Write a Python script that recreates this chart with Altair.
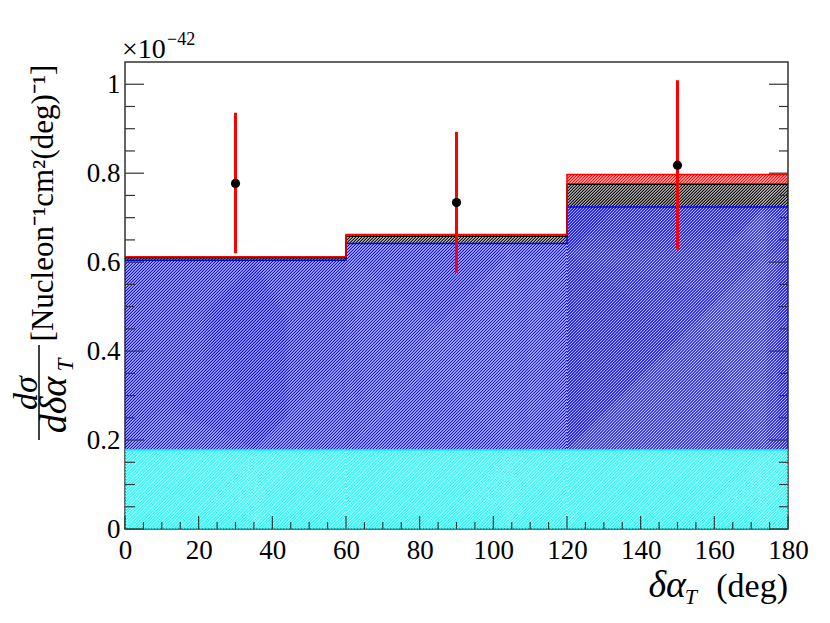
import altair as alt
import pandas as pd

# ---------------- data ----------------
bin_lo = [0, 60, 120]
bin_hi = [60, 120, 180]
# stacked components (contributions per bin), bottom to top
cyan_vals = [0.1775, 0.1775, 0.1775]
blue_vals = [0.4265, 0.4645, 0.5465]
black_vals = [0.006, 0.016, 0.051]
red_vals = [0.002, 0.004, 0.022]

pt_x = [30, 90, 150]
pt_y = [0.777, 0.734, 0.818]
err_lo = [0.620, 0.576, 0.628]
err_hi = [0.936, 0.893, 1.009]

x_major = [0, 20, 40, 60, 80, 100, 120, 140, 160, 180]
x_minor = [v for v in range(0, 181, 5) if v % 20 != 0]
y_major = [0, 0.2, 0.4, 0.6, 0.8, 1.0]
y_minor = [round(i * 0.05, 2) for i in range(0, 21) if i % 4 != 0]

# ---------------- layout ----------------
W, H = 663, 467
XMAX, YMAX = 180, 1.05
FONT = "Liberation Serif, Times New Roman, serif"
FRAME = "#333333"
PERIOD = 3.0  # hatch spacing in px (ROOT style 3004-like)

xs = alt.Scale(domain=[0, XMAX], nice=False, zero=False)
ys = alt.Scale(domain=[0, YMAX], nice=False, zero=False)

XAX = alt.Axis(values=x_major, tickSize=0, domain=False, grid=False,
               labelFont=FONT, labelFontSize=27, labelPadding=8,
               labelColor="black", labelFlush=False, labelOverlap=False, title=None)
YAX = alt.Axis(values=y_major, tickSize=0, domain=False, grid=False,
               labelFont=FONT, labelFontSize=27, labelPadding=5, format="~g",
               labelColor="black", labelOverlap=False, title=None)

components = [
    ("cyan", cyan_vals, "#00ffff"),
    ("blue", blue_vals, "#0000ff"),
    ("black", black_vals, "#000000"),
    ("red", red_vals, "#ff0000"),
]

# stacked rectangles and their diagonal hatch lines (clipped to each box)
rect_rows = []
hatch_rows = []
tops_by_comp = []
base = [0.0, 0.0, 0.0]
for name, vals, col in components:
    top = [base[i] + vals[i] for i in range(3)]
    for i in range(3):
        rect_rows.append({"lo": bin_lo[i], "hi": bin_hi[i], "y0": base[i],
                          "y1": top[i], "c": col})
        wpx = (bin_hi[i] - bin_lo[i]) * W / XMAX
        hpx = (top[i] - base[i]) * H / YMAX
        c = PERIOD / 2
        while c < wpx + hpx:
            u1 = max(0.0, c - hpx)
            u2 = min(wpx, c)
            hatch_rows.append({
                "x": bin_lo[i] + u1 * XMAX / W, "y": top[i] - (c - u1) * YMAX / H,
                "x2": bin_lo[i] + u2 * XMAX / W, "y2": top[i] - (c - u2) * YMAX / H,
                "c": col})
            c += PERIOD
    tops_by_comp.append((top, col))
    base = top

rect_df = pd.DataFrame(rect_rows)
hatch_df = pd.DataFrame(hatch_rows)
layers = [
    alt.Chart(rect_df).mark_rect(opacity=0.12, strokeWidth=0).encode(
        x=alt.X("lo:Q", scale=xs, axis=XAX), x2="hi:Q",
        y=alt.Y("y0:Q", scale=ys, axis=YAX), y2="y1:Q",
        color=alt.Color("c:N", scale=None),
    ),
    alt.Chart(hatch_df).mark_rule(strokeWidth=1.15, strokeCap="butt").encode(
        x=alt.X("x:Q", scale=xs, axis=XAX),
        y=alt.Y("y:Q", scale=ys, axis=YAX),
        x2="x2:Q", y2="y2:Q",
        color=alt.Color("c:N", scale=None),
    ),
]

# step outlines for each component
for top, col in tops_by_comp:
    df = pd.DataFrame({"x": bin_lo + [bin_hi[-1]], "y": top + [top[-1]]})
    layers.append(
        alt.Chart(df).mark_line(interpolate="step-after", color=col, strokeWidth=1.5).encode(
            x=alt.X("x:Q", scale=xs, axis=XAX),
            y=alt.Y("y:Q", scale=ys, axis=YAX),
        )
    )

# data points with errors
pts = pd.DataFrame({"x": pt_x, "y": pt_y, "lo": err_lo, "hi": err_hi})
layers.append(
    alt.Chart(pts).mark_rule(color="#ff0000", strokeWidth=3).encode(
        x=alt.X("x:Q", scale=xs, axis=XAX),
        y=alt.Y("lo:Q", scale=ys, axis=YAX),
        y2="hi:Q",
    )
)
layers.append(
    alt.Chart(pts).mark_circle(color="black", size=85, opacity=1).encode(
        x=alt.X("x:Q", scale=xs, axis=XAX),
        y=alt.Y("y:Q", scale=ys, axis=YAX),
    )
)


# ticks (inside, ROOT style)
def yticks(vals, length, right=False):
    df = pd.DataFrame({"v": vals})
    if right:
        xe = dict(x=alt.value(W - length), x2=alt.value(W))
    else:
        xe = dict(x=alt.value(0), x2=alt.value(length))
    return alt.Chart(df).mark_rule(color=FRAME, strokeWidth=1.2).encode(
        y=alt.Y("v:Q", scale=ys, axis=YAX), **xe)


def xticks(vals, length):
    df = pd.DataFrame({"v": vals})
    return alt.Chart(df).mark_rule(color=FRAME, strokeWidth=1.2).encode(
        x=alt.X("v:Q", scale=xs, axis=XAX), y=alt.value(H - length), y2=alt.value(H))


layers += [yticks(y_major, 19), yticks(y_minor, 10),
           yticks(y_major, 19, right=True), yticks(y_minor, 9, right=True),
           xticks(x_major, 13), xticks(x_minor, 7)]


# text annotations
def txt(s, x, y, size, align="left", baseline="alphabetic", angle=0, style="normal"):
    return alt.Chart(pd.DataFrame({"t": [s]})).mark_text(
        text=s, font=FONT, fontSize=size, align=align, baseline=baseline,
        angle=angle, fontStyle=style, color="black").encode(
        x=alt.value(x), y=alt.value(y))


layers += [
    txt("×10", -3, -4, 28),
    txt("−42", 42, -17, 18),
    # x title
    txt("(deg)", W, 535, 34, align="right"),
    txt("T", 572, 542, 22, align="right", style="italic"),
    txt("δα", 561, 535, 38, align="right", style="italic"),
    # y title
    txt("[Nucleon⁻¹cm²(deg)⁻¹]", -72, 141, 31, align="center", angle=270),
    txt("dσ", -88, 331, 34, align="center", angle=270, style="italic"),
    txt("dδα", -59, 343, 38, align="center", angle=270, style="italic"),
    txt("T", -52, 303, 23, align="center", angle=270, style="italic"),
]
frac = alt.Chart(pd.DataFrame({"a": [0]})).mark_rule(color="black", strokeWidth=1.5).encode(
    x=alt.value(-86), y=alt.value(283), y2=alt.value(378))
layers.append(frac)

chart = alt.layer(*layers).properties(
    width=W, height=H,
    autosize=alt.AutoSizeParams(type="none"),
    padding={"left": 117, "top": 54, "right": 30, "bottom": 86},
    background="white",
).configure_view(stroke=FRAME, strokeWidth=1.5
).configure_axis(labelFont=FONT, labelFontSize=27, labelColor="black")

chart.save("out.html", embed_options={"renderer": "svg", "actions": False})
